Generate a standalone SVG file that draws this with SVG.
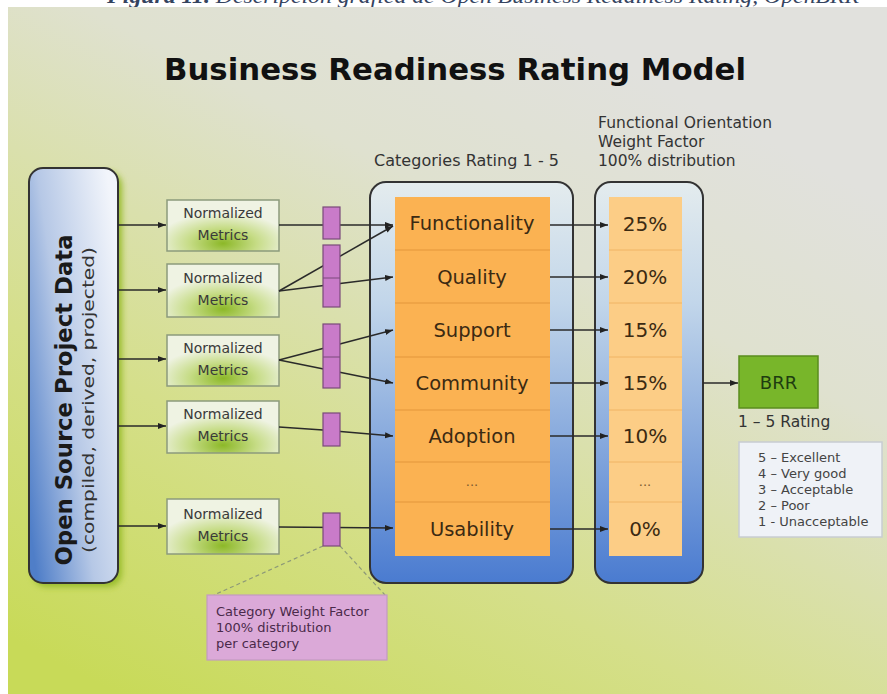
<svg xmlns="http://www.w3.org/2000/svg" width="887" height="694" viewBox="0 0 887 694">
  <defs>
    <linearGradient id="bg" x1="0.05" y1="0.95" x2="0.65" y2="0.05">
      <stop offset="0" stop-color="#c8da58"/>
      <stop offset="0.35" stop-color="#d5df8a"/>
      <stop offset="0.75" stop-color="#dfe1cf"/>
      <stop offset="1" stop-color="#e1e1dd"/>
    </linearGradient>
    <linearGradient id="srcFill" x1="0" y1="0.85" x2="1" y2="0.2">
      <stop offset="0" stop-color="#4f7ec8"/>
      <stop offset="0.45" stop-color="#b6c8e6"/>
      <stop offset="1" stop-color="#f2f5fb"/>
    </linearGradient>
    <linearGradient id="contFill" x1="0" y1="0" x2="0" y2="1">
      <stop offset="0" stop-color="#e4ecee"/>
      <stop offset="0.3" stop-color="#c2d6ea"/>
      <stop offset="1" stop-color="#4a7bd0"/>
    </linearGradient>
    <radialGradient id="nmFill" cx="0.5" cy="0.85" r="0.6">
      <stop offset="0" stop-color="#8cb828"/>
      <stop offset="0.5" stop-color="#c6dc86"/>
      <stop offset="1" stop-color="#eff3e3"/>
    </radialGradient>
    <filter id="glow" x="-20%" y="-10%" width="140%" height="120%">
      <feGaussianBlur stdDeviation="3"/>
    </filter>
    <marker id="arr" markerUnits="userSpaceOnUse" markerWidth="9" markerHeight="7" refX="8" refY="3.5" orient="auto">
      <path d="M0,0.5 L8,3.5 L0,6.5 z" fill="#222"/>
    </marker>
    <style>
      .lbl { font-family: "DejaVu Sans", Verdana, sans-serif; fill: #333; }
      .nm { font-family: "DejaVu Sans", Verdana, sans-serif; font-size: 14px; fill: #3a3a3a; text-anchor: middle; }
      .cat { font-family: "DejaVu Sans", Verdana, sans-serif; font-size: 19.5px; fill: #3b2a12; text-anchor: middle; }
      .pct { font-family: "DejaVu Sans", Verdana, sans-serif; font-size: 20px; fill: #3b2a12; text-anchor: middle; }
      .dots { font-family: "DejaVu Sans", Verdana, sans-serif; font-size: 13px; fill: #7a5a30; text-anchor: middle; }
      .nmBox { fill: url(#nmFill); stroke: #8c9a7c; stroke-width: 1.5; }
      .cont { fill: url(#contFill); stroke: #333; stroke-width: 2; }
      .row { stroke: #e3963a; stroke-width: 1; }
      .row2 { stroke: #f0b464; stroke-width: 1; }
      .wt { fill: #c97bc9; stroke: #7a4a7a; stroke-width: 1.2; }
      .con { stroke: #2a2a2a; stroke-width: 1.5; fill: none; }
      .leg { font-family: "DejaVu Sans", Verdana, sans-serif; font-size: 13px; fill: #444; }
      .note { font-family: "DejaVu Sans", Verdana, sans-serif; font-size: 13px; fill: #4a2a4a; }
    </style>
  </defs>

  <!-- page and caption -->
  <rect x="0" y="0" width="887" height="694" fill="#ffffff"/>
  <text x="483" y="3" text-anchor="middle" font-family="Liberation Serif, serif" font-style="italic" font-size="20" fill="#34435f" textLength="752" lengthAdjust="spacingAndGlyphs"><tspan font-weight="bold">Figura 11.</tspan> Descripción gráfica de Open Business Readiness Rating, OpenBRR</text>
  <rect x="8" y="7" width="879" height="687" fill="url(#bg)"/>

  <!-- headings -->
  <text x="455" y="80" text-anchor="middle" font-family="DejaVu Sans, Verdana, sans-serif" font-weight="bold" font-size="31" fill="#111" textLength="582" lengthAdjust="spacingAndGlyphs">Business Readiness Rating Model</text>
  <text class="lbl" x="374" y="166" font-size="16" textLength="185">Categories Rating 1 - 5</text>
  <g class="lbl" font-size="15.5">
    <text x="598" y="128" textLength="174">Functional Orientation</text>
    <text x="598" y="147">Weight Factor</text>
    <text x="598" y="166">100% distribution</text>
  </g>

  <!-- source data -->
  <g id="source">
    <rect x="33" y="172" width="89" height="415" rx="14" fill="#98bc2a" filter="url(#glow)"/>
    <rect x="29" y="168" width="89" height="415" rx="14" fill="url(#srcFill)" stroke="#333" stroke-width="2"/>
    <text transform="translate(72,400) rotate(-90)" text-anchor="middle" font-family="DejaVu Sans, Verdana, sans-serif" font-weight="bold" font-size="23" fill="#1a1a1a" textLength="331" lengthAdjust="spacingAndGlyphs">Open Source Project Data</text>
    <text transform="translate(94,400) rotate(-90)" text-anchor="middle" font-family="DejaVu Sans, Verdana, sans-serif" font-size="15" fill="#333" textLength="306" lengthAdjust="spacingAndGlyphs">(compiled, derived, projected)</text>
  </g>

  <!-- normalized metrics -->
  <g id="nm1"><rect class="nmBox" x="167" y="200" width="112" height="51"/><text class="nm" x="223" y="218">Normalized</text><text class="nm" x="223" y="240">Metrics</text></g>
  <g id="nm2"><rect class="nmBox" x="167" y="264" width="112" height="53"/><text class="nm" x="223" y="283">Normalized</text><text class="nm" x="223" y="305">Metrics</text></g>
  <g id="nm3"><rect class="nmBox" x="167" y="335" width="112" height="51"/><text class="nm" x="223" y="353">Normalized</text><text class="nm" x="223" y="375">Metrics</text></g>
  <g id="nm4"><rect class="nmBox" x="167" y="401" width="112" height="52"/><text class="nm" x="223" y="419">Normalized</text><text class="nm" x="223" y="441">Metrics</text></g>
  <g id="nm5"><rect class="nmBox" x="167" y="499" width="112" height="55"/><text class="nm" x="223" y="519">Normalized</text><text class="nm" x="223" y="541">Metrics</text></g>

  <!-- categories -->
  <g id="categories">
    <rect class="cont" x="370" y="182" width="203" height="401" rx="16"/>
    <rect x="395" y="197" width="155" height="359" fill="#fbb252"/>
    <line class="row" x1="395" y1="250" x2="550" y2="250"/>
    <line class="row" x1="395" y1="303" x2="550" y2="303"/>
    <line class="row" x1="395" y1="357" x2="550" y2="357"/>
    <line class="row" x1="395" y1="410" x2="550" y2="410"/>
    <line class="row" x1="395" y1="462" x2="550" y2="462"/>
    <line class="row" x1="395" y1="502" x2="550" y2="502"/>
    <text class="cat" x="472" y="230">Functionality</text>
    <text class="cat" x="472" y="284">Quality</text>
    <text class="cat" x="472" y="337">Support</text>
    <text class="cat" x="472" y="390">Community</text>
    <text class="cat" x="472" y="443">Adoption</text>
    <text class="dots" x="472" y="486">...</text>
    <text class="cat" x="472" y="536">Usability</text>
  </g>

  <!-- weights -->
  <g id="weights">
    <rect class="cont" x="595" y="182" width="108" height="401" rx="16"/>
    <rect x="609" y="197" width="73" height="359" fill="#fccd86"/>
    <line class="row2" x1="609" y1="250" x2="682" y2="250"/>
    <line class="row2" x1="609" y1="303" x2="682" y2="303"/>
    <line class="row2" x1="609" y1="357" x2="682" y2="357"/>
    <line class="row2" x1="609" y1="410" x2="682" y2="410"/>
    <line class="row2" x1="609" y1="462" x2="682" y2="462"/>
    <line class="row2" x1="609" y1="502" x2="682" y2="502"/>
    <text class="pct" x="645" y="231">25%</text>
    <text class="pct" x="645" y="284">20%</text>
    <text class="pct" x="645" y="337">15%</text>
    <text class="pct" x="645" y="390">15%</text>
    <text class="pct" x="645" y="443">10%</text>
    <text class="dots" x="645" y="486">...</text>
    <text class="pct" x="645" y="536">0%</text>
  </g>

  <!-- result -->
  <g id="brr">
    <rect x="739" y="356" width="79" height="52" fill="#78b62a" stroke="#5a8c1e" stroke-width="1.5"/>
    <text x="778.5" y="389" text-anchor="middle" font-family="DejaVu Sans, Verdana, sans-serif" font-size="18" fill="#1e3d10">BRR</text>
    <text class="lbl" x="738" y="427" font-size="15.5">1 – 5 Rating</text>
  </g>
  <g id="scale">
    <rect x="739" y="442" width="143" height="95" fill="#eff2f7" stroke="#c8ccd2" stroke-width="1.5"/>
    <text class="leg" x="758" y="462">5 – Excellent</text>
    <text class="leg" x="758" y="478">4 – Very good</text>
    <text class="leg" x="758" y="494">3 – Acceptable</text>
    <text class="leg" x="758" y="510">2 – Poor</text>
    <text class="leg" x="758" y="526">1 - Unacceptable</text>
  </g>

  <!-- connectors -->
  <g id="connectors">
    <line class="con" x1="118" y1="225" x2="166" y2="225" marker-end="url(#arr)"/>
    <line class="con" x1="118" y1="290" x2="166" y2="290" marker-end="url(#arr)"/>
    <line class="con" x1="118" y1="359" x2="166" y2="359" marker-end="url(#arr)"/>
    <line class="con" x1="118" y1="426" x2="166" y2="426" marker-end="url(#arr)"/>
    <line class="con" x1="118" y1="526" x2="166" y2="526" marker-end="url(#arr)"/>

    <line class="con" x1="279" y1="225" x2="393" y2="225" marker-end="url(#arr)"/>
    <line class="con" x1="279" y1="291" x2="393" y2="226" marker-end="url(#arr)"/>
    <line class="con" x1="279" y1="291" x2="393" y2="277" marker-end="url(#arr)"/>
    <line class="con" x1="279" y1="360" x2="393" y2="330" marker-end="url(#arr)"/>
    <line class="con" x1="279" y1="360" x2="393" y2="383" marker-end="url(#arr)"/>
    <polyline class="con" points="279,427 323,430 393,436" marker-end="url(#arr)"/>
    <line class="con" x1="279" y1="527" x2="393" y2="528" marker-end="url(#arr)"/>

    <line class="con" x1="550" y1="225" x2="608" y2="225" marker-end="url(#arr)"/>
    <line class="con" x1="550" y1="277" x2="608" y2="277" marker-end="url(#arr)"/>
    <line class="con" x1="550" y1="330" x2="608" y2="330" marker-end="url(#arr)"/>
    <line class="con" x1="550" y1="383" x2="608" y2="383" marker-end="url(#arr)"/>
    <line class="con" x1="550" y1="436" x2="608" y2="436" marker-end="url(#arr)"/>
    <line class="con" x1="550" y1="529" x2="608" y2="529" marker-end="url(#arr)"/>

    <line class="con" x1="703" y1="383" x2="738" y2="383" marker-end="url(#arr)"/>

    <line x1="323" y1="546" x2="214" y2="595" stroke="#8e9a78" stroke-width="1.2" stroke-dasharray="4 3"/>
    <line x1="340" y1="546" x2="385" y2="595" stroke="#8e9a78" stroke-width="1.2" stroke-dasharray="4 3"/>
  </g>

  <!-- category weight factors -->
  <g id="weight-factors">
    <rect class="wt" x="323" y="207" width="17" height="32"/>
    <rect class="wt" x="323" y="245" width="17" height="62"/>
    <line x1="323" y1="278" x2="340" y2="278" stroke="#7a4a7a" stroke-width="1"/>
    <rect class="wt" x="323" y="324" width="17" height="64"/>
    <line x1="323" y1="357" x2="340" y2="357" stroke="#7a4a7a" stroke-width="1"/>
    <rect class="wt" x="323" y="413" width="17" height="33"/>
    <rect class="wt" x="323" y="513" width="17" height="33"/>
  </g>

  <g id="note">
    <rect x="207" y="595" width="180" height="65" fill="#dba9d8" stroke="#c29cc0" stroke-width="1.2"/>
    <text class="note" x="216" y="616">Category Weight Factor</text>
    <text class="note" x="216" y="632">100% distribution</text>
    <text class="note" x="216" y="648">per category</text>
  </g>
</svg>
